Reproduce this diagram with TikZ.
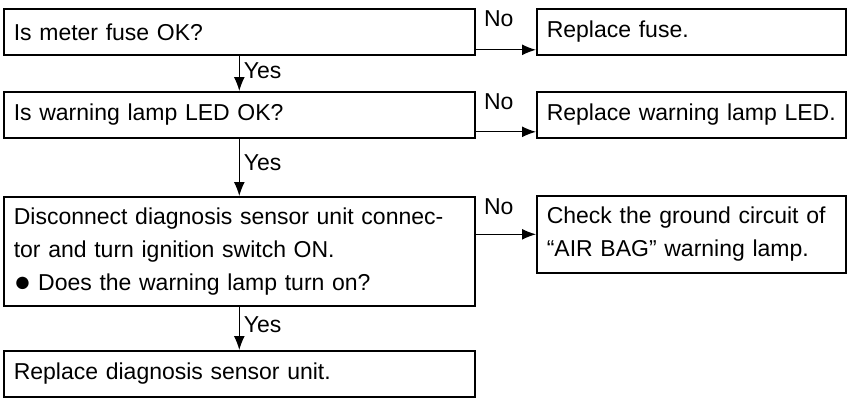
\documentclass[tikz,border=0pt]{standalone}
\usepackage{fontspec}
\setmainfont{Liberation Sans}
\usetikzlibrary{arrows.meta}
\tikzset{
  lbox/.style={draw, line width=0.8pt, anchor=north west, inner xsep=5pt,
    text width=225.5pt, align=left, minimum height=23pt},
  rbox/.style={lbox, text width=144.5pt},
  arr/.style={line width=0.6pt, -{Latex[length=7pt,width=5.5pt]}},
  yes/.style={right, pos=0.42, inner sep=2pt},
  no/.style={anchor=north west, inner sep=1pt, xshift=3pt}
}
\newcommand{\bigdot}{\raisebox{-0.6pt}{\scalebox{1.25}{●}}\hspace{3.5pt}}
\begin{document}
\begin{tikzpicture}[x=0.5pt,y=-0.5pt,font=\fontsize{11.5pt}{16.5pt}\selectfont]
  \useasboundingbox (0,0) rectangle (849,398);
  % left column
  \node[lbox] (fuse) at (3,8) {Is meter fuse OK?};
  \node[lbox] (led) at (3,91) {Is warning lamp LED OK?};
  \node[lbox, minimum height=54.5pt] (unit) at (3,196)
    {Disconnect diagnosis sensor unit connec-\\tor and turn ignition switch ON.\\\bigdot Does the warning lamp turn on?};
  \node[lbox] (repunit) at (3,350) {Replace diagnosis sensor unit.};
  % right column
  \node[rbox] (repfuse) at (536,8) {Replace fuse.};
  \node[rbox] (repled) at (536,91) {Replace warning lamp LED.};
  \node[rbox, minimum height=38.5pt] (ground) at (536,195)
    {Check the ground circuit of\\“AIR BAG” warning lamp.};
  % yes
  \draw[arr] (fuse) -- node[yes] {Yes} (led);
  \draw[arr] (led) -- node[yes] {Yes} (unit);
  \draw[arr] (unit) -- node[yes] {Yes} (repunit);
  % no
  \draw[arr] ([yshift=-9pt]fuse.east) -- ([yshift=-9pt]repfuse.west);
  \node[no] (no1) at (fuse.north east) {No};
  \draw[arr] ([yshift=-8.5pt]led.east) -- ([yshift=-8.5pt]repled.west);
  \node[no] (no2) at (led.north east) {No};
  \draw[arr] (unit.east |- ground.west) -- (ground.west);
  \node[no] (no3) at (unit.north east) {No};
\end{tikzpicture}
\end{document}
